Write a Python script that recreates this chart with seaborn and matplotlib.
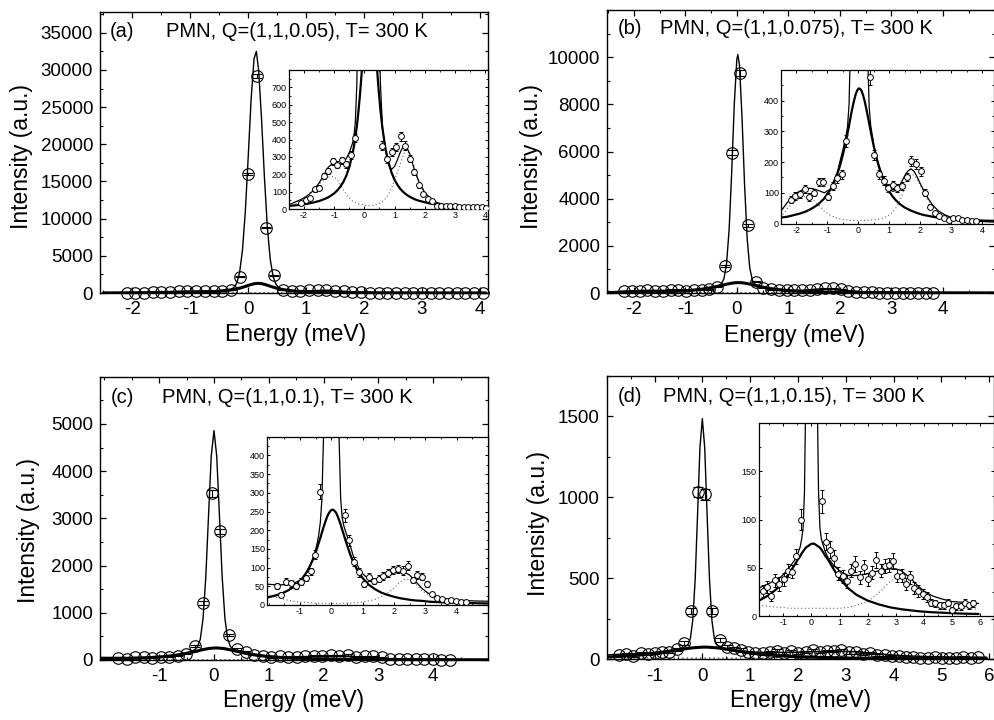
import matplotlib
matplotlib.use("Agg")
import matplotlib.pyplot as plt
import seaborn as sns
from matplotlib.ticker import MultipleLocator, FixedLocator

# ---------------- panel (a) ----------------
a_x = [-2.10, -1.95, -1.80, -1.65, -1.50, -1.35, -1.20, -1.05, -0.90, -0.75, -0.60, -0.45, -0.30,
       -0.15, 0.00, 0.15, 0.30, 0.45, 0.60, 0.75, 0.90, 1.05, 1.20, 1.35, 1.50, 1.65, 1.80, 1.95,
       2.10, 2.25, 2.40, 2.55, 2.70, 2.85, 3.00, 3.15, 3.30, 3.45, 3.60, 3.75, 3.90, 4.05]
a_y = [36, 52, 61, 113, 122, 189, 217, 276, 256, 280, 258, 309, 408,
       2200, 16000, 29200, 8800, 2400, 365, 286, 328, 355, 418, 365, 290, 214, 137, 84, 55, 46,
       19, 18, 19, 20, 19, 13, 13, 13, 11, 11, 9, 8]
a_err = [8, 9, 10, 13, 14, 17, 18, 20, 20, 21, 20, 22, 25,
         60, 170, 240, 120, 65, 24, 21, 22, 23, 25, 24, 21, 18, 15, 11, 9, 8,
         6, 6, 6, 6, 6, 5, 5, 5, 5, 5, 4, 4]
a_fx = [-2.5, -2.3, -2.1, -1.9, -1.7, -1.5, -1.3, -1.2, -1.1, -1.0, -0.9, -0.8, -0.7, -0.6, -0.5,
        -0.4, -0.35, -0.3, -0.25, -0.2, -0.15, -0.1, -0.05, 0.0, 0.05, 0.1, 0.14, 0.18, 0.23, 0.28,
        0.33, 0.38, 0.43, 0.48, 0.53, 0.6, 0.7, 0.8, 0.9, 1.0, 1.1, 1.2, 1.3, 1.35, 1.4, 1.5, 1.6,
        1.7, 1.8, 2.0, 2.2, 2.4, 2.6, 2.8, 3.0, 3.5, 4.1]
a_total = [25, 40, 55, 75, 105, 150, 210, 240, 255, 258, 255, 258, 268, 290, 325,
           375, 410, 500, 720, 1290, 2730, 5755, 11040, 18390, 26140, 31500, 32500, 29920, 23330, 15480,
           8840, 4500, 2180, 1150, 730, 470, 340, 260, 228, 245, 285, 330, 362, 368, 355, 320, 260,
           205, 160, 95, 60, 38, 27, 21, 17, 12, 9]
a_broad = [18, 21, 25, 30, 37, 46, 59, 67, 78, 90, 107, 128, 155, 191, 242,
           312, 357, 412, 477, 556, 650, 759, 883, 1014, 1139, 1240, 1289, 1299, 1256, 1163,
           1040, 908, 783, 671, 574, 463, 347, 267, 210, 168, 138, 114, 96, 89, 82, 71, 62,
           54, 48, 39, 31, 26, 22, 19, 16, 12, 9]
a_phonon = [13, 28, 48, 75, 110, 145, 170, 182, 188, 185, 168, 140, 110, 85, 63,
            47, 41, 37, 33, 30, 28, 26, 24, 22, 21, 20, 19, 19, 20, 21,
            23, 25, 28, 32, 36, 44, 60, 85, 120, 165, 215, 265, 315, 330, 338, 318, 270,
            220, 170, 95, 55, 33, 21, 15, 11, 7, 4]

# ---------------- panel (b) ----------------
b_x = [-2.185, -2.035, -1.885, -1.735, -1.585, -1.435, -1.285, -1.135, -0.985, -0.835, -0.685,
       -0.535, -0.385, -0.235, -0.085, 0.065, 0.215, 0.365, 0.515, 0.665, 0.815, 0.965, 1.115,
       1.265, 1.415, 1.565, 1.715, 1.865, 2.015, 2.165, 2.315, 2.465, 2.615, 2.765, 2.915, 3.065,
       3.215, 3.365, 3.515, 3.665, 3.815]
b_y = [78, 90, 95, 112, 86, 100, 135, 135, 87, 122, 147, 160, 268, 1130, 5945, 9312, 2870, 478,
       223, 160, 140, 115, 125, 115, 122, 152, 203, 195, 170, 100, 55, 35, 25, 17, 10, 18, 18,
       13, 10, 8, 7]
b_err = [11, 12, 12, 13, 12, 12, 14, 14, 12, 13, 14, 15, 20, 45, 100, 125, 70, 28, 17, 14, 14,
         13, 13, 13, 13, 14, 17, 16, 15, 12, 9, 7, 6, 5, 4, 5, 5, 4, 4, 4, 4]
b_fx = [-2.52, -2.3, -2.1, -1.9, -1.7, -1.5, -1.3, -1.1, -0.9, -0.7, -0.6, -0.5, -0.4,
        -0.35, -0.3, -0.25, -0.2, -0.15, -0.1, -0.05, 0.0, 0.02, 0.05, 0.1, 0.15, 0.2, 0.25, 0.3,
        0.35, 0.4, 0.5, 0.6, 0.7, 0.8, 0.9, 1.0, 1.1, 1.2, 1.3, 1.4, 1.5, 1.6, 1.7, 1.8, 1.9,
        2.0, 2.1, 2.2, 2.4, 2.6, 2.8, 3.0, 3.5, 4.0, 4.5, 5.0]
b_total = [38, 68, 92, 105, 115, 114, 108, 100, 112, 158, 200, 240, 285,
           315, 389, 609, 1242, 2684, 5127, 8003, 9918, 10110, 9684, 7457, 4579, 2322, 1073, 554,
           379, 318, 255, 212, 178, 150, 128, 113, 105, 107, 118, 136, 156, 171, 178, 170, 152,
           130, 110, 90, 60, 40, 28, 20, 14, 11, 10, 9]
b_broad = [19, 22, 27, 32, 39, 49, 62, 82, 111, 156, 186, 224, 269,
           294, 320, 347, 373, 396, 416, 431, 439, 440, 439, 433, 419, 400, 377, 352,
           326, 300, 250, 208, 173, 145, 122, 104, 89, 77, 67, 59, 52, 47, 42, 38, 34,
           31, 28, 26, 22, 19, 16, 14, 10, 8, 6, 5]
b_phonon = [20, 48, 68, 82, 88, 80, 62, 40, 26, 18, 15, 13, 12,
            11, 11, 10, 10, 10, 10, 10, 10, 10, 10, 10, 10, 10, 10, 11,
            11, 11, 12, 13, 15, 18, 22, 28, 36, 48, 66, 90, 118, 145, 160, 158, 145,
            125, 105, 85, 52, 32, 21, 15, 8, 6, 5, 4]

# ---------------- panel (c) ----------------
c_x = [-1.745, -1.590, -1.435, -1.280, -1.125, -0.970, -0.815, -0.660, -0.505, -0.350, -0.195,
       -0.040, 0.115, 0.270, 0.425, 0.580, 0.735, 0.890, 1.045, 1.200, 1.355, 1.510, 1.665, 1.820,
       1.975, 2.130, 2.285, 2.440, 2.595, 2.750, 2.905, 3.060, 3.215, 3.370, 3.525, 3.680, 3.835,
       3.990, 4.145, 4.300]
c_y = [50, 28, 62, 58, 52, 62, 72, 90, 135, 303, 1208, 3530, 2725, 536, 240, 173, 116, 87, 56, 75,
       64, 70, 78, 86, 93, 97, 92, 105, 67, 80, 76, 55, 29, 20, 16, 11, 13, 11, 9, 8]
c_err = [8, 6, 9, 9, 8, 9, 9, 10, 13, 20, 40, 70, 60, 25, 18, 15, 12, 11, 9, 10,
         9, 9, 10, 10, 11, 11, 11, 12, 9, 10, 10, 8, 6, 5, 5, 4, 4, 4, 4, 3]
c_fx = [-2.08, -1.8, -1.6, -1.4, -1.2, -1.0, -0.9, -0.8, -0.7, -0.6, -0.5, -0.45, -0.4, -0.35,
        -0.3, -0.25, -0.2, -0.15, -0.1, -0.05, 0.0, 0.05, 0.1, 0.15, 0.2, 0.25, 0.3, 0.35, 0.4,
        0.45, 0.5, 0.6, 0.7, 0.8, 0.9, 1.0, 1.2, 1.4, 1.6, 1.8, 2.0, 2.2, 2.35, 2.5, 2.7, 2.9,
        3.1, 3.3, 3.6, 4.0, 4.5, 5.0]
c_total = [56, 54, 54, 55, 58, 66, 73, 84, 100, 120, 148, 165, 187, 220,
           281, 440, 870, 1747, 3047, 4317, 4858, 4317, 3047, 1747, 872, 444, 284, 232, 212,
           198, 186, 160, 132, 112, 96, 84, 68, 66, 70, 78, 86, 88, 87, 80, 62, 44,
           31, 23, 17, 13, 11, 10]
c_broad = [19, 25, 30, 38, 48, 64, 74, 86, 101, 119, 141, 153, 166, 179,
           193, 207, 220, 232, 242, 249, 254, 255, 252, 247, 238, 227, 215, 201, 188,
           174, 161, 136, 115, 98, 84, 72, 54, 42, 33, 27, 22, 18, 16, 14, 12, 11,
           9, 8, 7, 6, 5, 4]
c_phonon = [30, 22, 17, 13, 10, 8, 7, 7, 6, 6, 5, 5, 5, 5,
            5, 5, 4, 4, 4, 4, 4, 4, 4, 4, 4, 4, 4, 5, 5,
            5, 5, 5, 6, 6, 7, 8, 11, 15, 22, 32, 46, 62, 69, 68, 55, 38,
            26, 17, 10, 6, 4, 3]

# ---------------- panel (d) ----------------
d_x = [-1.74, -1.59, -1.44, -1.29, -1.14, -0.99, -0.84, -0.69, -0.54, -0.39, -0.24, -0.09, 0.06,
       0.21, 0.36, 0.51, 0.66, 0.81, 0.96, 1.11, 1.26, 1.41, 1.56, 1.71, 1.86, 2.01, 2.16, 2.31,
       2.46, 2.61, 2.76, 2.91, 3.06, 3.21, 3.36, 3.51, 3.66, 3.81, 3.96, 4.11, 4.26, 4.41, 4.56,
       4.71, 4.86, 5.01, 5.16, 5.31, 5.46, 5.61, 5.76]
d_y = [26, 30, 21, 37, 33, 38, 47, 46, 62, 100, 298, 1033, 1017, 298, 119, 77, 69, 60, 44, 41,
       36, 47, 54, 40, 51, 38, 45, 58, 47, 52, 53, 57, 42, 42, 33, 40, 29, 26, 23, 20,
       14, 13, 11, 11, 14, 6, 10, 10, 14, 11, 13]
d_err = [6, 6, 5, 7, 7, 7, 7, 7, 8, 11, 18, 33, 33, 18, 12, 9, 9, 8, 7, 7,
         7, 7, 8, 7, 7, 7, 7, 8, 7, 7, 7, 8, 7, 7, 6, 7, 6, 6, 5, 5,
         4, 4, 4, 4, 4, 3, 4, 4, 4, 4, 4]
d_fx = [-2.0, -1.8, -1.5, -1.2, -1.0, -0.8, -0.6, -0.5, -0.4, -0.35, -0.3, -0.25, -0.2, -0.15,
        -0.1, -0.05, 0.0, 0.05, 0.1, 0.15, 0.2, 0.25, 0.3, 0.35, 0.4, 0.5, 0.6, 0.8, 1.0, 1.3,
        1.6, 2.0, 2.4, 2.8, 3.0, 3.2, 3.5, 3.8, 4.0, 4.3, 4.6, 5.0, 5.5, 5.95]
d_total = [27, 30, 34, 38, 43, 50, 58, 64, 72, 80, 91, 129, 241, 490,
           891, 1305, 1485, 1305, 891, 490, 241, 130, 92, 80, 75, 66, 60, 52, 47, 42,
           42, 44, 47, 49, 49, 47, 40, 31, 26, 21, 18, 15, 14, 13]
d_broad = [14, 17, 22, 29, 36, 44, 53, 58, 62, 65, 67, 69, 71, 72,
           73, 74, 75, 75, 75, 74, 73, 72, 71, 69, 67, 62, 58, 48, 39, 29,
           22, 16, 12, 9, 8, 7, 6, 5, 4.5, 3.9, 3.5, 2.9, 2.4, 2.1]
d_phonon = [12, 11, 10, 9, 9, 8, 8, 8, 8, 8, 8, 8, 8, 8,
            8, 8, 8, 8, 8, 8, 8, 8, 8, 8, 8, 8, 8, 8, 8, 9,
            11, 15, 24, 36, 40, 39, 33, 26, 21, 16, 12, 10, 8, 7]

tags = ["(a)", "(b)", "(c)", "(d)"]
titles = ["PMN, Q=(1,1,0.05), T= 300 K", "PMN, Q=(1,1,0.075), T= 300 K",
          "PMN, Q=(1,1,0.1), T= 300 K", "PMN, Q=(1,1,0.15), T= 300 K"]
main_yticks = [[0, 5000, 10000, 15000, 20000, 25000, 30000, 35000],
               [0, 2000, 4000, 6000, 8000, 10000],
               [0, 1000, 2000, 3000, 4000, 5000],
               [0, 500, 1000, 1500]]
main_xticks = [[-2, -1, 0, 1, 2, 3, 4], [-2, -1, 0, 1, 2, 3, 4],
               [-1, 0, 1, 2, 3, 4], [-1, 0, 1, 2, 3, 4, 5, 6]]
inset_yticks = [[0, 100, 200, 300, 400, 500, 600, 700], [0, 100, 200, 300, 400],
                [0, 50, 100, 150, 200, 250, 300, 350, 400], [0, 50, 100, 150]]
inset_xticks = [[-2, -1, 0, 1, 2, 3, 4], [-2, -1, 0, 1, 2, 3, 4],
                [-1, 0, 1, 2, 3, 4], [-1, 0, 1, 2, 3, 4, 5, 6]]

sns.set_theme(style="ticks")
plt.rcParams["font.family"] = ["Liberation Sans", "DejaVu Sans"]
plt.rcParams["axes.unicode_minus"] = False

W, H = 995.0, 720.0


def rect(l, t, r, b):
    return [l / W, 1 - b / H, (r - l) / W, (b - t) / H]


fig = plt.figure(figsize=(9.95, 7.2), dpi=100)
fig.patch.set_facecolor("white")

panels = [
    dict(x=a_x, y=a_y, e=a_err, fx=a_fx, tot=a_total, brd=a_broad, pho=a_phonon,
         main=rect(100, 12, 488, 293), ins=rect(289, 70, 488, 209),
         xlim=(-2.56, 4.14), ylim=(0, 37800), ymin=2500,
         ixlim=(-2.5, 4.1), iylim=(0, 800), iymin=50,
         tag=(0.026, 0.929), tit=0.170, ylab=(-0.173, 0.484), xlab=(0.503, -0.108)),
    dict(x=b_x, y=b_y, e=b_err, fx=b_fx, tot=b_total, brd=b_broad, pho=b_phonon,
         main=rect(607, 10, 994.5, 293), ins=rect(781, 70, 994.5, 223.5),
         xlim=(-2.52, 5.0), ylim=(0, 12000), ymin=1000,
         ixlim=(-2.5, 4.4), iylim=(0, 500), iymin=50,
         tag=(0.028, 0.936), tit=0.137, ylab=(-0.165, 0.482), xlab=(0.483, -0.110)),
    dict(x=c_x, y=c_y, e=c_err, fx=c_fx, tot=c_total, brd=c_broad, pho=c_phonon,
         main=rect(100, 376.7, 488, 660), ins=rect(267, 436.7, 488, 605),
         xlim=(-2.08, 5.0), ylim=(0, 6000), ymin=500,
         ixlim=(-2.05, 5.0), iylim=(0, 450), iymin=25,
         tag=(0.028, 0.925), tit=0.160, ylab=(-0.155, 0.456), xlab=(0.5, -0.101)),
    dict(x=d_x, y=d_y, e=d_err, fx=d_fx, tot=d_total, brd=d_broad, pho=d_phonon,
         main=rect(606.7, 375.7, 994, 659.3), ins=rect(758.7, 423.3, 994, 616),
         xlim=(-2.0, 6.1), ylim=(0, 1750), ymin=250,
         ixlim=(-1.88, 6.5), iylim=(0, 200), iymin=25,
         tag=(0.029, 0.925), tit=0.145, ylab=(-0.146, 0.48), xlab=(0.501, -0.106)),
]

dot_style = (0, (1, 2.2))

for i, p in enumerate(panels):
    ax = fig.add_axes(p["main"])
    ax.set_facecolor("white")
    sns.lineplot(x=p["fx"], y=p["pho"], ax=ax, color="0.35", linewidth=1.0,
                 linestyle=dot_style, errorbar=None)
    sns.lineplot(x=p["fx"], y=p["brd"], ax=ax, color="black", linewidth=2.2, errorbar=None)
    sns.lineplot(x=p["fx"], y=p["tot"], ax=ax, color="black", linewidth=1.0, errorbar=None)
    ax.errorbar(p["x"], p["y"], yerr=p["e"], fmt="o", ms=8.3, mfc="none", mec="black",
                mew=0.8, ecolor="black", elinewidth=0.8, capsize=3.8, capthick=0.8,
                clip_on=False, zorder=5)
    ax.set_xlim(*p["xlim"])
    ax.set_ylim(*p["ylim"])
    ax.xaxis.set_major_locator(FixedLocator(main_xticks[i]))
    ax.xaxis.set_minor_locator(MultipleLocator(0.5))
    ax.yaxis.set_major_locator(FixedLocator(main_yticks[i]))
    ax.yaxis.set_minor_locator(MultipleLocator(p["ymin"]))
    ax.tick_params(which="both", direction="in", top=True, right=True, colors="black")
    ax.tick_params(which="major", length=4.5, width=0.9, labelsize=13.5)
    ax.tick_params(which="minor", length=2.3, width=0.8)
    ax.tick_params(axis="x", which="major", pad=6.0)
    ax.tick_params(axis="y", which="major", pad=5.0)
    for s in ax.spines.values():
        s.set_linewidth(1.0)
        s.set_color("black")
    ax.set_xlabel("Energy (meV)", fontsize=16.5, color="black")
    ax.set_ylabel("Intensity (a.u.)", fontsize=16.5, color="black")
    ax.xaxis.set_label_coords(*p["xlab"])
    ax.yaxis.set_label_coords(*p["ylab"])
    ax.text(p["tag"][0], p["tag"][1], tags[i], transform=ax.transAxes, fontsize=14.5,
            ha="left", va="center", color="black")
    ax.text(p["tit"], p["tag"][1], titles[i], transform=ax.transAxes, fontsize=14.5,
            ha="left", va="center", color="black")

    # inset
    ia = fig.add_axes(p["ins"], zorder=10)
    ia.set_facecolor("white")
    sns.lineplot(x=p["fx"], y=p["pho"], ax=ia, color="0.4", linewidth=0.8,
                 linestyle=dot_style, errorbar=None)
    sns.lineplot(x=p["fx"], y=p["brd"], ax=ia, color="black", linewidth=1.6, errorbar=None)
    sns.lineplot(x=p["fx"], y=p["tot"], ax=ia, color="black", linewidth=0.9, errorbar=None)
    ia.errorbar(p["x"], p["y"], yerr=p["e"], fmt="o", ms=4.2, mfc="white", mec="black",
                mew=0.7, ecolor="black", elinewidth=0.7, capsize=1.5, capthick=0.7, zorder=5)
    ia.set_xlim(*p["ixlim"])
    ia.set_ylim(*p["iylim"])
    ia.xaxis.set_major_locator(FixedLocator(inset_xticks[i]))
    ia.xaxis.set_minor_locator(MultipleLocator(0.5))
    ia.yaxis.set_major_locator(FixedLocator(inset_yticks[i]))
    ia.yaxis.set_minor_locator(MultipleLocator(p["iymin"]))
    ia.tick_params(which="both", direction="in", top=True, right=True, colors="black")
    ia.tick_params(which="major", length=2.5, width=0.7, labelsize=6.5, pad=1.5)
    ia.tick_params(which="minor", length=1.3, width=0.6)
    for s in ia.spines.values():
        s.set_linewidth(0.9)
        s.set_color("black")
    ia.set_xlabel("")
    ia.set_ylabel("")

fig.savefig("out.png", dpi=100, facecolor="white")
